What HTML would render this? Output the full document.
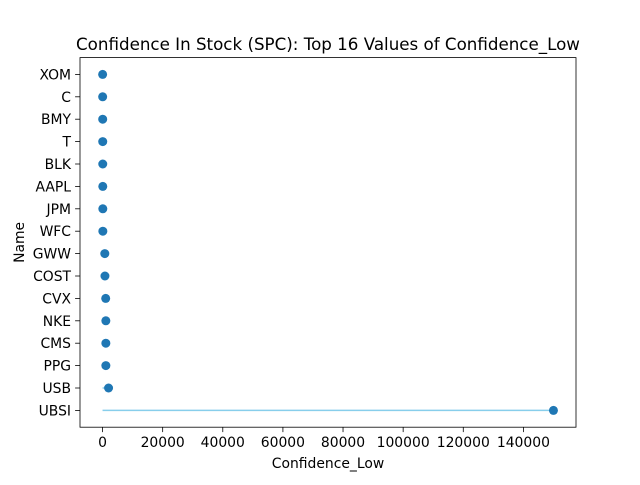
<!DOCTYPE html>
<html><head><meta charset="utf-8"><style>
body{margin:0;background:#fff;font-family:"Liberation Sans","DejaVu Sans",sans-serif;}
svg text{font-family:"DejaVu Sans","Liberation Sans",sans-serif;}
</style></head><body>
<svg id="chart" width="640" height="480" xmlns="http://www.w3.org/2000/svg"></svg>
<script>
const categories=["UBSI","USB","PPG","CMS","NKE","CVX","COST","GWW","WFC","JPM","AAPL","BLK","T","BMY","C","XOM"];
const values=[150000,2000,1100,1100,1100,1050,800,750,100,90,80,70,60,50,40,30];
const xTicks=[0,20000,40000,60000,80000,100000,120000,140000];
const xTickLabels=["0","20000","40000","60000","80000","100000","120000","140000"];
const L=80,R=576,T=57.6,B=427.2,xmin=-7500,xmax=157500,ymin=-0.75,ymax=15.75;
const xs=v=>L+(v-xmin)/(xmax-xmin)*(R-L);
const ys=i=>B-(i-ymin)/(ymax-ymin)*(B-T);
const svg=document.getElementById('chart');
const NS="http://www.w3.org/2000/svg";
function mk(tag,attrs,parent){const e=document.createElementNS(NS,tag);for(const k in attrs)e.setAttribute(k,attrs[k]);(parent||svg).appendChild(e);return e;}
const plot=mk('g',{});


categories.forEach((c,i)=>{
  const ln=mk('line',{x1:xs(0),x2:xs(values[i]),y1:ys(i),y2:ys(i),stroke:'#87ceeb','stroke-width':1.5},plot);
  
  
});
categories.forEach((c,i)=>{
  const p=mk('circle',{cx:xs(values[i]),cy:ys(i),r:4.5,fill:'#1f77b4'},plot);
  
  
});
const frame=mk('rect',{x:L,y:T,width:R-L,height:B-T,fill:'none',stroke:'#000','stroke-width':0.8});


xTicks.forEach((v,k)=>{
  const x=xs(v);
  const t=mk('line',{x1:x,x2:x,y1:B,y2:B+4.9,stroke:'#000','stroke-width':0.8});
  
  
  const tx=mk('text',{x:x,y:B+20,'text-anchor':'middle','font-size':13.9});
  tx.textContent=xTickLabels[k];
  
  
});
categories.forEach((c,i)=>{
  const y=ys(i);
  const t=mk('line',{x1:L-4.9,x2:L,y1:y,y2:y,stroke:'#000','stroke-width':0.8});
  
  
  const tx=mk('text',{x:L-9,y:y+5,'text-anchor':'end','font-size':13.9});
  tx.textContent=c;
  
  
});
const title=mk('text',{x:(L+R)/2,y:50,'text-anchor':'middle','font-size':16.7});
title.textContent="Confidence In Stock (SPC): Top 16 Values of Confidence_Low";


const xl=mk('text',{x:(L+R)/2,y:468,'text-anchor':'middle','font-size':13.9});
xl.textContent="Confidence_Low";


const yl=mk('text',{x:24,y:(T+B)/2,'text-anchor':'middle','font-size':13.9,transform:`rotate(-90 24 ${(T+B)/2})`});
yl.textContent="Name";


</script>
</body></html>
